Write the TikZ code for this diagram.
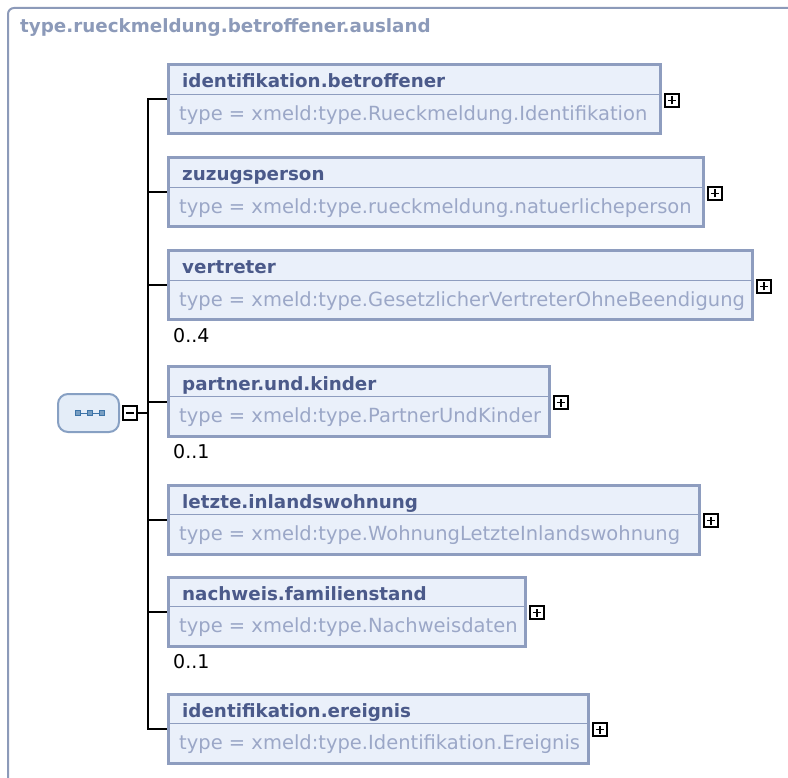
\documentclass[tikz,border=0pt]{standalone}
\usepackage{fontspec}
\setmainfont{DejaVu Sans}
\usetikzlibrary{positioning}

\definecolor{borde}{HTML}{8E9DBF}
\definecolor{relleno}{HTML}{EAF0FA}
\definecolor{cabtexto}{HTML}{4B5A8A}
\definecolor{tipotexto}{HTML}{9BA7C7}
\definecolor{titcolor}{HTML}{8C9AB9}
\definecolor{secborde}{HTML}{87A0C3}
\definecolor{secrelleno}{HTML}{E4EDF8}
\definecolor{icono}{HTML}{3D74A8}

\begin{document}
\begin{tikzpicture}[x=1pt, y=-1pt, % coordenadas en pixeles
    caja/.style={draw=borde, fill=relleno, line width=3pt, minimum height=69pt, inner sep=0pt},
    cabecera/.style={anchor=base west, inner sep=0pt, text=cabtexto, font=\fontsize{18.3}{22}\selectfont\bfseries},
    tipo/.style={anchor=base west, inner sep=0pt, text=tipotexto, font=\fontsize{19.5}{23}\selectfont},
    mult/.style={anchor=base west, inner sep=0pt, text=black, font=\fontsize{19}{23}\selectfont},
    expandir/.style={draw=black, fill=white, line width=2pt, minimum size=13.5pt, inner sep=0pt},
    conector/.style={line width=2pt, black}
  ]

  \useasboundingbox (0,0) rectangle (788,778);

  % Marco exterior y titulo
  \draw[titcolor, line width=2pt, rounded corners=6pt] (8,800) -- (8,8) -- (810,8);
  \node[anchor=base west, inner sep=0pt, text=titcolor, font=\fontsize{18.3}{22}\selectfont\bfseries] (tit) at (20,33) {type.rueckmeldung.betroffener.ausland};

  % Compositor (secuencia)
  \node[draw=secborde, fill=secrelleno, line width=2pt, rounded corners=10pt, minimum width=61pt, minimum height=38pt] (sec) at (88.5,413) {};
  \draw[icono, line width=1pt] (78,413) -- (102,413);
  \filldraw[icono, fill=icono!70] (75.5,410.5) rectangle (80.5,415.5);
  \filldraw[icono, fill=icono!70] (87.5,410.5) rectangle (92.5,415.5);
  \filldraw[icono, fill=icono!70] (99.5,410.5) rectangle (104.5,415.5);
  \node[expandir, right=2pt of sec,
    path picture={\draw[line width=1.5pt] ([xshift=-4pt]path picture bounding box.center) -- ([xshift=4pt]path picture bounding box.center);}] (menos) {};

  % Cajas de elementos
  \node[caja, minimum width=492pt] (e1) at (414.5,99.5) {};
  \node[caja, minimum width=535pt] (e2) at (436,192.5) {};
  \node[caja, minimum width=584pt] (e3) at (460.5,285.5) {};
  \node[caja, minimum width=381pt] (e4) at (359,401.5) {};
  \node[caja, minimum width=531pt] (e5) at (434,519.5) {};
  \node[caja, minimum width=357pt] (e6) at (347,611.5) {};
  \node[caja, minimum width=420pt] (e7) at (378.5,728.5) {};

  % Lineas divisorias
  \foreach \i in {1,...,7}
    \draw[borde, line width=1.8pt] ([xshift=1.5pt,yshift=-31pt]e\i.north west) -- ([xshift=-1.5pt,yshift=-31pt]e\i.north east);

  % Nombres y tipos
  \node[cabecera] (n1) at ([xshift=15pt,yshift=-24.5pt]e1.north west) {identifikation.betroffener};
  \node[tipo] (t1) at ([xshift=12pt,yshift=-57pt]e1.north west) {type = xmeld:type.Rueckmeldung.Identifikation};
  \node[cabecera] (n2) at ([xshift=15pt,yshift=-24.5pt]e2.north west) {zuzugsperson};
  \node[tipo] (t2) at ([xshift=12pt,yshift=-57pt]e2.north west) {type = xmeld:type.rueckmeldung.natuerlicheperson};
  \node[cabecera] (n3) at ([xshift=15pt,yshift=-24.5pt]e3.north west) {vertreter};
  \node[tipo] (t3) at ([xshift=12pt,yshift=-57pt]e3.north west) {type = xmeld:type.GesetzlicherVertreterOhneBeendigung};
  \node[cabecera] (n4) at ([xshift=15pt,yshift=-24.5pt]e4.north west) {partner.und.kinder};
  \node[tipo] (t4) at ([xshift=12pt,yshift=-57pt]e4.north west) {type = xmeld:type.PartnerUndKinder};
  \node[cabecera] (n5) at ([xshift=15pt,yshift=-24.5pt]e5.north west) {letzte.inlandswohnung};
  \node[tipo] (t5) at ([xshift=12pt,yshift=-57pt]e5.north west) {type = xmeld:type.WohnungLetzteInlandswohnung};
  \node[cabecera] (n6) at ([xshift=15pt,yshift=-24.5pt]e6.north west) {nachweis.familienstand};
  \node[tipo] (t6) at ([xshift=12pt,yshift=-57pt]e6.north west) {type = xmeld:type.Nachweisdaten};
  \node[cabecera] (n7) at ([xshift=15pt,yshift=-24.5pt]e7.north west) {identifikation.ereignis};
  \node[tipo] (t7) at ([xshift=12pt,yshift=-57pt]e7.north west) {type = xmeld:type.Identifikation.Ereignis};

  % Botones +
  \tikzset{mas/.style={expandir, anchor=west,
    path picture={\draw[line width=1.5pt] ([xshift=-4pt]path picture bounding box.center) -- ([xshift=4pt]path picture bounding box.center);
                  \draw[line width=1.5pt] ([yshift=-4pt]path picture bounding box.center) -- ([yshift=4pt]path picture bounding box.center);}}}
  \node[mas] (p1) at ([xshift=2pt,yshift=-1pt]e1.east) {};
  \node[mas] (p2) at ([xshift=2pt,yshift=-1pt]e2.east) {};
  \node[mas] (p3) at ([xshift=2pt,yshift=-1pt]e3.east) {};
  \node[mas] (p4) at ([xshift=2pt,yshift=-1pt]e4.east) {};
  \node[mas] (p5) at ([xshift=2pt,yshift=-1pt]e5.east) {};
  \node[mas] (p6) at ([xshift=2pt,yshift=-1pt]e6.east) {};
  \node[mas] (p7) at ([xshift=2pt,yshift=-1pt]e7.east) {};

  % Cardinalidades
  \node[mult] (m3) at ([xshift=6pt,yshift=-21pt]e3.south west) {0..4};
  \node[mult] (m4) at ([xshift=6pt,yshift=-21pt]e4.south west) {0..1};
  \node[mult] (m6) at ([xshift=6pt,yshift=-21pt]e6.south west) {0..1};

  % Conectores
  \coordinate (tronco) at ([xshift=10pt]menos.east);
  \draw[conector] (menos.east) -- (tronco);
  \draw[conector] (e1.west) -| (tronco |- e7.west) -- (e7.west);
  \draw[conector] (tronco |- e2.west) -- (e2.west);
  \draw[conector] (tronco |- e3.west) -- (e3.west);
  \draw[conector] (tronco |- e4.west) -- (e4.west);
  \draw[conector] (tronco |- e5.west) -- (e5.west);
  \draw[conector] (tronco |- e6.west) -- (e6.west);

\end{tikzpicture}
\end{document}
